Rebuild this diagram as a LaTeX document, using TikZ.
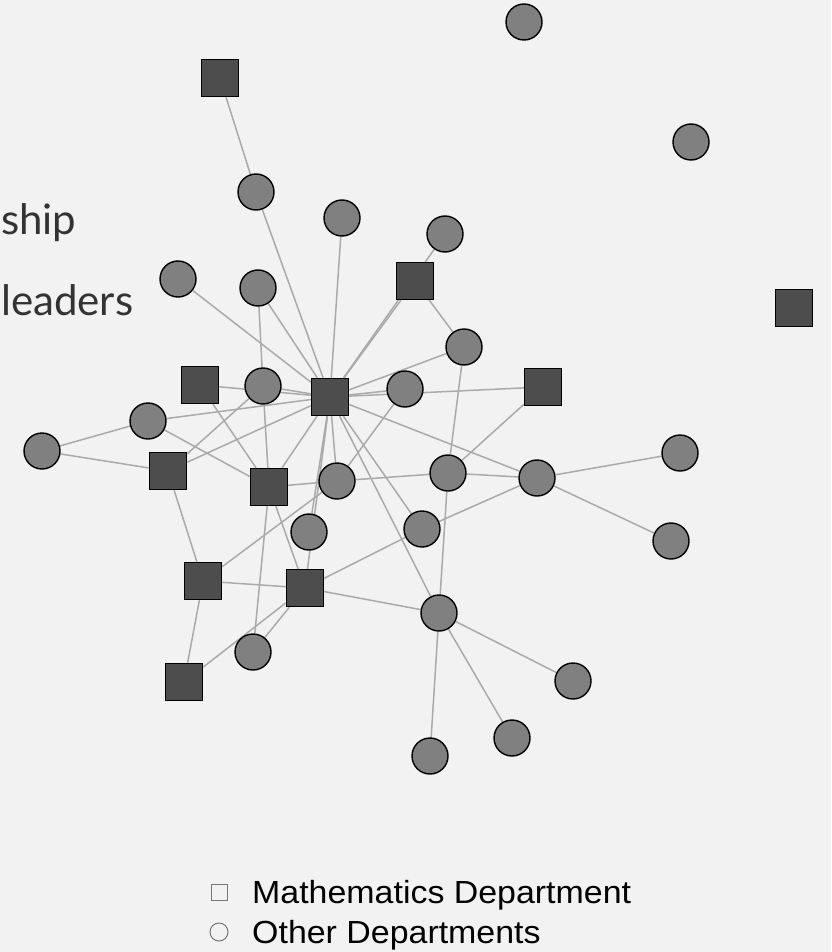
\documentclass[tikz,border=0pt]{standalone}
\usepackage{fontspec}
\setmainfont{Liberation Sans}
\newfontfamily\keyfont[FakeStretch=1.06]{Liberation Sans}
\newfontfamily\headfont{Lato}
\usetikzlibrary{backgrounds}

\definecolor{bgcol}{HTML}{F2F2F2}
\definecolor{mathcol}{HTML}{4D4D4D}
\definecolor{othercol}{HTML}{808080}
\definecolor{tiecol}{HTML}{AAAAAA}
\definecolor{keycol}{HTML}{777777}
\definecolor{headcol}{HTML}{333333}

\begin{document}
\begin{tikzpicture}[
    x=1pt, y=-1pt,
    math/.style={draw=black, fill=mathcol, line width=1.4pt, minimum size=37pt, inner sep=0pt},
    other/.style={circle, draw=black, fill=othercol, line width=1.4pt, minimum size=36pt, inner sep=0pt},
    every edge/.style={draw=tiecol, line width=1.5pt},
    keybox/.style={draw=keycol, line width=1pt, minimum size=16pt, inner sep=0pt},
    keydot/.style={circle, draw=keycol, line width=1pt, minimum size=18pt, inner sep=0pt},
    keytext/.style={anchor=base west, inner sep=0pt, font=\keyfont\fontsize{32}{36}\selectfont},
    headtext/.style={anchor=base west, inner sep=0pt, text=headcol, font=\headfont\fontsize{42}{48}\selectfont}
]
\useasboundingbox (0,0) rectangle (831,952);

% ---------------- Heading (cut off) ----------------
\node[headtext] (ship) at (1,234) {ship};
\node[headtext] (leaders) at (1,315) {leaders};

% ---------------- Mathematics ----------------
\node[math] (m1) at (220,78) {};
\node[math] (m2) at (415,281) {};
\node[math] (m3) at (794,308) {};
\node[math] (m4) at (200,385) {};
\node[math] (m5) at (330,397) {};
\node[math] (m6) at (543,387) {};
\node[math] (m7) at (168,471) {};
\node[math] (m8) at (269,487) {};
\node[math] (m9) at (203,581) {};
\node[math] (m10) at (305,588) {};
\node[math] (m11) at (184,682) {};

% ---------------- Other departments ----------------
\node[other] (o1) at (524,22) {};
\node[other] (o2) at (691,142) {};
\node[other] (o3) at (256,192) {};
\node[other] (o4) at (342,218) {};
\node[other] (o5) at (445,234) {};
\node[other] (o6) at (178,279) {};
\node[other] (o7) at (258,288) {};
\node[other] (o8) at (464,347) {};
\node[other] (o9) at (263,386) {};
\node[other] (o10) at (405,389) {};
\node[other] (o11) at (148,421) {};
\node[other] (o12) at (42,451) {};
\node[other] (o13) at (680,453) {};
\node[other] (o14) at (337,481) {};
\node[other] (o15) at (448,473) {};
\node[other] (o16) at (537,478) {};
\node[other] (o17) at (309,532) {};
\node[other] (o18) at (422,529) {};
\node[other] (o19) at (671,541) {};
\node[other] (o20) at (439,613) {};
\node[other] (o21) at (253,652) {};
\node[other] (o22) at (573,681) {};
\node[other] (o23) at (512,738) {};
\node[other] (o24) at (430,756) {};

% ---------------- Ties ----------------
\begin{pgfonlayer}{background}
\fill[bgcol] (0,0) rectangle (831,952);

% hub
\draw (m5) edge (o3)
      (m5) edge (o4)
      (m5) edge (o5)
      (m5) edge (m2)
      (m5) edge (o8)
      (m5) edge (o6)
      (m5) edge (o7)
      (m5) edge (m4)
      (m5) edge (o9)
      (m5) edge (o11)
      (m5) edge (o10)
      (m5) edge (m6)
      (m5) edge (o16)
      (m5) edge (m7)
      (m5) edge (m8)
      (m5) edge (o14)
      (m5) edge (o17)
      (m5) edge (m10)
      (m5) edge (o20)
      (m5) edge (o18);

% upper part
\draw (m1) edge (o3)
      (m2) edge (o8)
      (o8) edge (o15)
      (o7) edge (o9)
      (o9) edge (m7)
      (o9) edge (m8)
      (o10) edge (o14);

% left part
\draw (o12) edge (o11)
      (o12) edge (m7)
      (o11) edge (m8)
      (m4) edge (m8)
      (m7) edge (m9)
      (m9) edge (o14)
      (m9) edge (m10)
      (m9) edge (m11);

% middle
\draw (m8) edge (o14)
      (m8) edge (m10)
      (m8) edge (o21)
      (o14) edge (o15)
      (m6) edge (o15)
      (o15) edge (o16)
      (o15) edge (o20)
      (o16) edge (o18)
      (o18) edge (m10);

% lower part
\draw (m11) edge (m10)
      (o21) edge (m10)
      (m10) edge (o20)
      (o20) edge (o22)
      (o20) edge (o23)
      (o20) edge (o24);

% right part
\draw (o16) edge (o13)
      (o16) edge (o19);
\end{pgfonlayer}

% ---------------- Key ----------------
\node[keybox] (keym) at (219,892) {};
\node[keydot] (keyo) at (219,932) {};
\node[keytext] (keymtext) at (252,903) {Mathematics Department};
\node[keytext] (keyotext) at (252,943) {Other Departments};

\end{tikzpicture}
\end{document}
